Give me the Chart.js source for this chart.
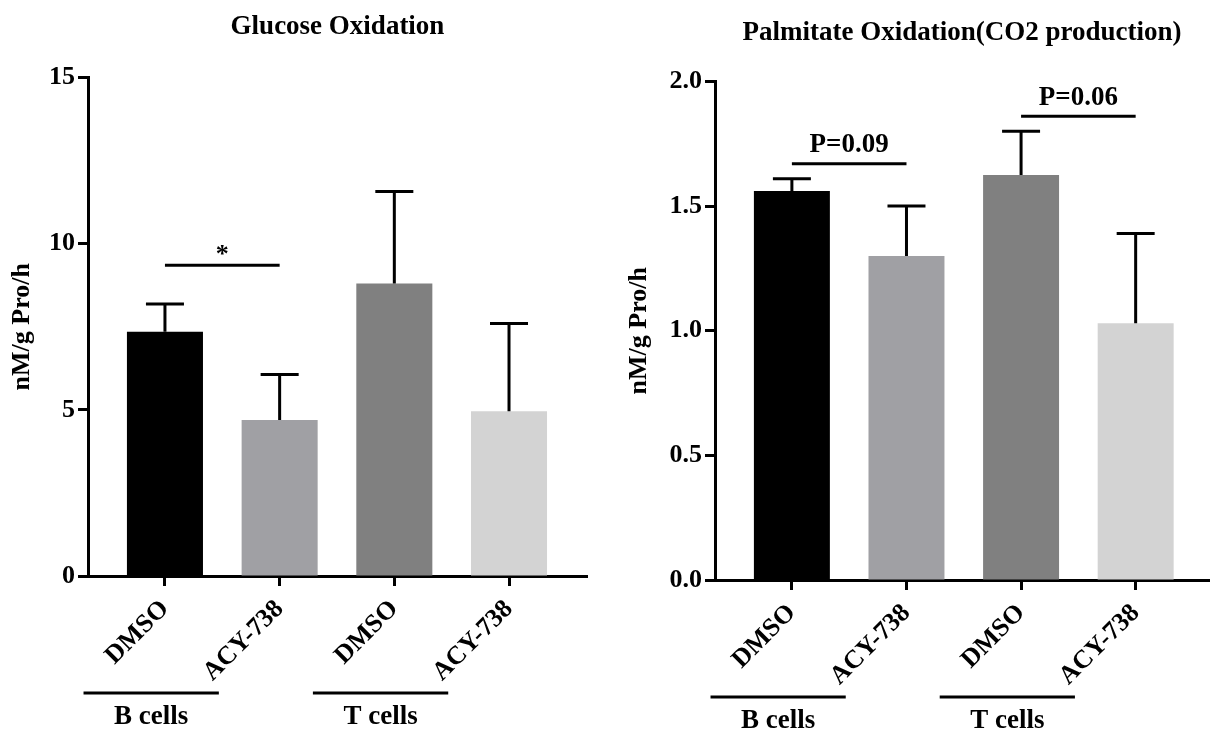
<!DOCTYPE html>
<html>
<head>
<meta charset="utf-8">
<script src="https://cdn.jsdelivr.net/npm/chart.js@4"></script>
<style>
  body { margin: 0; background: #fff; }
  .panel { position: absolute; top: 0; height: 731px; }
  #left { left: 0; width: 605px; }
  #right { left: 605px; width: 605px; }
</style>
</head>
<body>
<div class="panel" id="left"><canvas id="glucoseChart"></canvas></div>
<div class="panel" id="right"><canvas id="palmitateChart"></canvas></div>
<script>
// bar order: B cells DMSO, B cells ACY-738, T cells DMSO, T cells ACY-738
const treatments = ['DMSO', 'ACY-738', 'DMSO', 'ACY-738'];
const cellGroups = ['B cells', 'T cells'];
const barColors = ['#000000', '#a0a0a4', '#808080', '#d3d3d3'];

// glucose oxidation, nM/g Pro/h (mean, SD)
const glucoseMeans = [7.35, 4.69, 8.80, 4.96];
const glucoseSD = [0.83, 1.37, 2.77, 2.64];
const glucoseTicks = [0, 5, 10, 15];
const glucoseMarks = [{ from: 1, to: 2, at: 9.35, text: '*' }];

// palmitate oxidation (CO2 production), nM/g Pro/h (mean, SD)
const palmitateMeans = [1.56, 1.30, 1.625, 1.03];
const palmitateSD = [0.05, 0.20, 0.175, 0.36];
const palmitateTicks = [0, 0.5, 1.0, 1.5, 2.0];
const palmitateMarks = [
    { from: 1, to: 2, at: 1.67, text: 'P=0.09' },
    { from: 3, to: 4, at: 1.86, text: 'P=0.06' }
];

const FONT = '"Liberation Serif", "Times New Roman", serif';
Chart.defaults.font.family = FONT;
Chart.defaults.font.weight = 'bold';
Chart.defaults.color = '#000';

// error bars (upper only), significance bars and group underlines
const extrasPlugin = {
    id: 'extras',
    afterDatasetsDraw(chart, args, opts) {
        const ctx = chart.ctx;
        const xs = chart.scales.x, ys = chart.scales.y;
        const meta = chart.getDatasetMeta(0);
        ctx.save();
        ctx.strokeStyle = '#000';
        ctx.lineWidth = 3;
        meta.data.forEach((bar, i) => {
            const top = ys.getPixelForValue(opts.means[i] + opts.sd[i]);
            const half = bar.width / 4;
            ctx.beginPath();
            ctx.moveTo(bar.x, bar.y);
            ctx.lineTo(bar.x, top);
            ctx.moveTo(bar.x - half, top);
            ctx.lineTo(bar.x + half, top);
            ctx.stroke();
        });

        ctx.fillStyle = '#000';
        ctx.textAlign = 'center';
        opts.marks.forEach(m => {
            const y = ys.getPixelForValue(m.at);
            const x1 = xs.getPixelForValue(m.from), x2 = xs.getPixelForValue(m.to);
            ctx.beginPath();
            ctx.moveTo(x1, y);
            ctx.lineTo(x2, y);
            ctx.stroke();
            if (m.text === '*') {
                ctx.font = 'bold 26px ' + FONT;
                ctx.textBaseline = 'alphabetic';
                ctx.fillText(m.text, (x1 + x2) / 2, y - 3);
            } else {
                ctx.font = 'bold 27px ' + FONT;
                ctx.textBaseline = 'bottom';
                ctx.fillText(m.text, (x1 + x2) / 2, y - 5);
            }
        });

        const bottom = chart.chartArea.bottom;
        ctx.font = 'bold 27px ' + FONT;
        ctx.textBaseline = 'middle';
        cellGroups.forEach((g, k) => {
            const a = xs.getPixelForValue(2 * k + 1 - 0.71);
            const b = xs.getPixelForValue(2 * k + 2 - 0.53);
            ctx.beginPath();
            ctx.moveTo(a, bottom + 117);
            ctx.lineTo(b, bottom + 117);
            ctx.stroke();
            ctx.fillText(g, (a + b) / 2, bottom + 141);
        });
        ctx.restore();
    }
};

function makeChart(id, cfg) {
    return new Chart(document.getElementById(id), {
        type: 'bar',
        data: {
            datasets: [{
                data: cfg.means.map((v, i) => ({ x: i + 1, y: v })),
                backgroundColor: barColors,
                borderWidth: 0,
                categoryPercentage: 1,
                barPercentage: 0.663
            }]
        },
        options: {
            responsive: true,
            maintainAspectRatio: false,
            animation: false,
            layout: { padding: { left: 0, right: cfg.padRight, top: 0, bottom: 0 } },
            plugins: {
                legend: { display: false },
                tooltip: { enabled: false },
                title: {
                    display: true,
                    text: cfg.title,
                    fullSize: false,
                    font: { size: 27, weight: 'bold' },
                    padding: { top: cfg.titleTop, bottom: cfg.titleBottom }
                },
                extras: { means: cfg.means, sd: cfg.sd, marks: cfg.marks }
            },
            scales: {
                x: {
                    type: 'linear',
                    offset: false,
                    min: 0.329,
                    max: cfg.xMax,
                    afterBuildTicks: s => { s.ticks = treatments.map((t, i) => ({ value: i + 1 })); },
                    afterFit: s => { s.height = cfg.xHeight; },
                    ticks: {
                        callback: (v, i) => treatments[i],
                        minRotation: 45,
                        maxRotation: 45,
                        autoSkip: false,
                        padding: 8,
                        font: { size: 26, weight: 'bold' }
                    },
                    grid: { offset: false, drawOnChartArea: false, tickLength: 10, tickWidth: 3, tickColor: '#000' },
                    border: { color: '#000', width: 3 }
                },
                y: {
                    min: 0,
                    max: cfg.ticks[cfg.ticks.length - 1],
                    afterBuildTicks: s => { s.ticks = cfg.ticks.map(v => ({ value: v })); },
                    afterFit: s => { s.width = cfg.yWidth; },
                    ticks: {
                        callback: cfg.fmt,
                        padding: 3,
                        font: { size: 26, weight: 'bold' }
                    },
                    title: {
                        display: true,
                        text: 'nM/g Pro/h',
                        font: { size: 26, weight: 'bold' },
                        padding: { top: cfg.yTitlePad, bottom: 0 }
                    },
                    grid: { drawOnChartArea: false, tickLength: 10, tickWidth: 3, tickColor: '#000' },
                    border: { color: '#000', width: 3 }
                }
            }
        },
        plugins: [extrasPlugin]
    });
}

makeChart('glucoseChart', {
    title: 'Glucose Oxidation',
    means: glucoseMeans, sd: glucoseSD, marks: glucoseMarks,
    ticks: glucoseTicks, fmt: v => String(v),
    xMax: 4.68, padRight: 18, yWidth: 88, xHeight: 155,
    titleTop: 11, titleBottom: 34, yTitlePad: 7
});

makeChart('palmitateChart', {
    title: 'Palmitate Oxidation(CO2 production)',
    means: palmitateMeans, sd: palmitateSD, marks: palmitateMarks,
    ticks: palmitateTicks, fmt: v => v.toFixed(1),
    xMax: 4.64, padRight: 1, yWidth: 110, xHeight: 151,
    titleTop: 17, titleBottom: 32, yTitlePad: 19
});
</script>
</body>
</html>
